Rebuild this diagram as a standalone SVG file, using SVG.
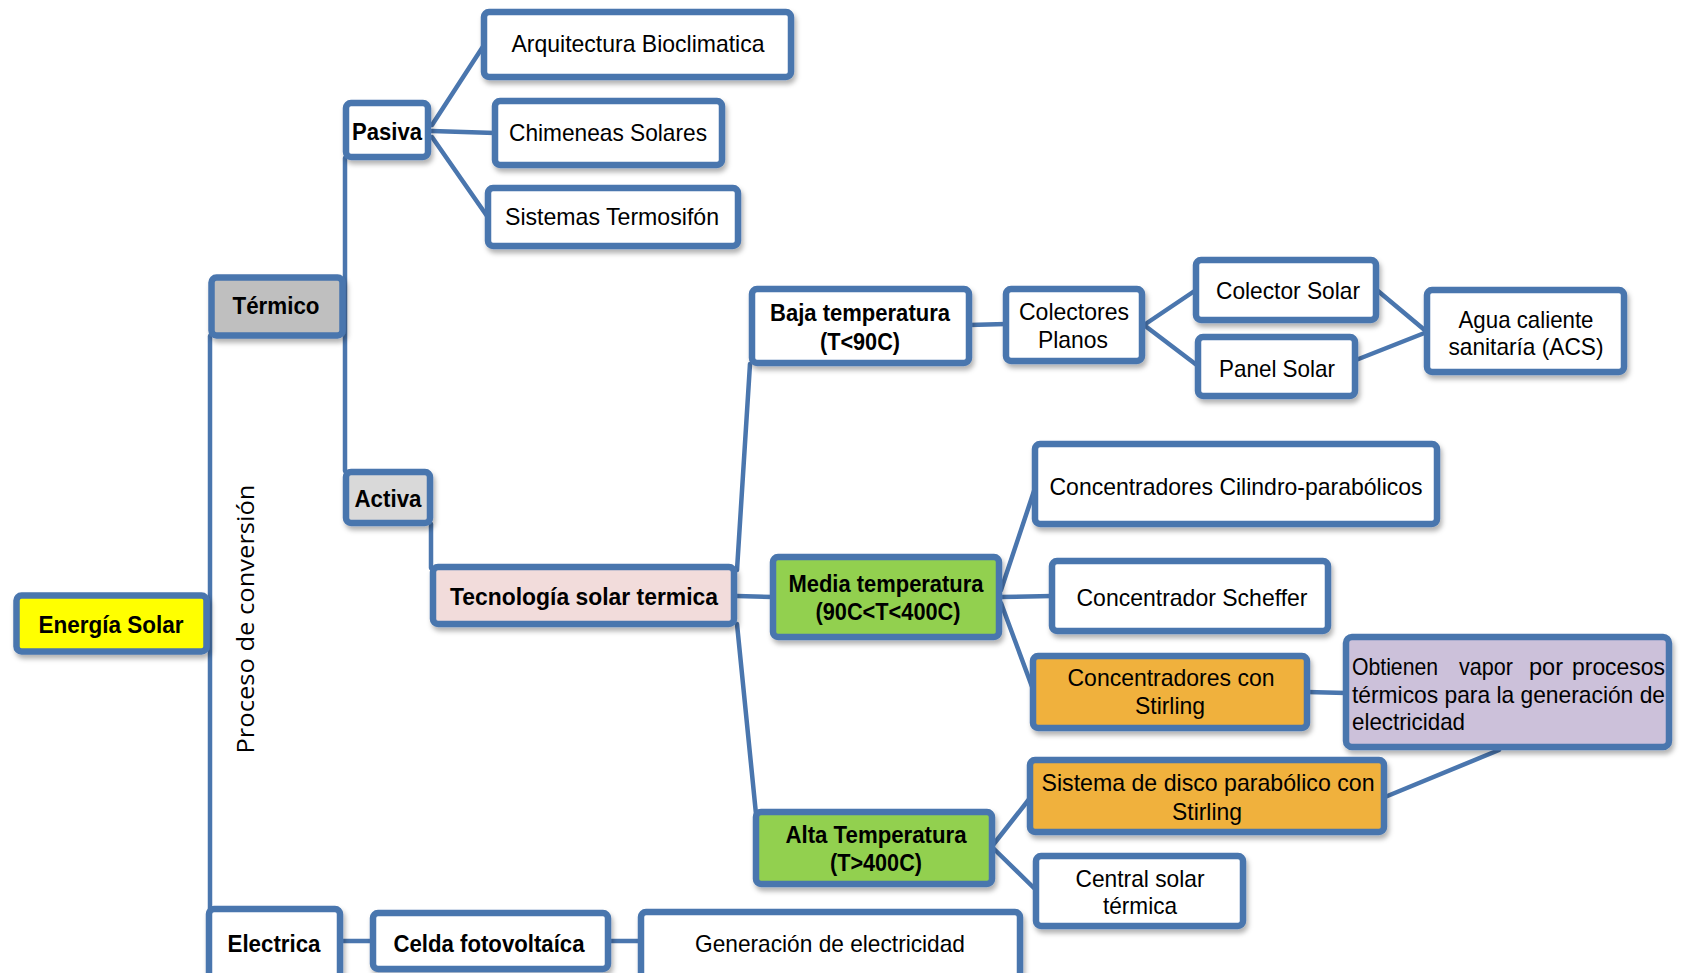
<svg xmlns="http://www.w3.org/2000/svg" width="1687" height="973" viewBox="0 0 1687 973">
<style>
.box{stroke:#4A76AE;stroke-width:6.5;filter:url(#sh)}
.w{fill:#FFFFFF}
.t{font-family:"Liberation Sans",Arial,sans-serif;font-size:24px;fill:#000;text-anchor:middle}
.b{font-weight:bold}
.l{text-anchor:start}
.c{stroke:#4A76AE;stroke-width:4.5;fill:none;stroke-linecap:round}
</style>
<defs>
<filter id="sh" x="-10%" y="-15%" width="125%" height="150%">
<feDropShadow dx="2" dy="4" stdDeviation="2.5" flood-color="#000" flood-opacity="0.3"/>
</filter>
</defs>
<rect width="1687" height="973" fill="#FFFFFF"/>
<g id="connectors">
<line class="c" x1="210" y1="336" x2="210" y2="910"/>
<line class="c" x1="345" y1="158" x2="345" y2="471"/>
<line class="c" x1="432" y1="125" x2="484" y2="45"/>
<line class="c" x1="432" y1="131" x2="495" y2="133"/>
<line class="c" x1="432" y1="137" x2="487" y2="216"/>
<line class="c" x1="431" y1="524" x2="431" y2="568"/>
<line class="c" x1="737" y1="570" x2="750" y2="364"/>
<line class="c" x1="737" y1="596" x2="773" y2="597"/>
<line class="c" x1="737" y1="624" x2="756" y2="814"/>
<line class="c" x1="969" y1="325" x2="1006" y2="324"/>
<line class="c" x1="1144" y1="325" x2="1196" y2="290"/>
<line class="c" x1="1144" y1="325" x2="1198" y2="366"/>
<line class="c" x1="1378" y1="291" x2="1427" y2="332"/>
<line class="c" x1="1356" y1="360" x2="1427" y2="332"/>
<line class="c" x1="1001" y1="590" x2="1035" y2="488"/>
<line class="c" x1="999" y1="597" x2="1052" y2="596"/>
<line class="c" x1="1001" y1="603" x2="1034" y2="692"/>
<line class="c" x1="1307" y1="692" x2="1346" y2="693"/>
<line class="c" x1="1499" y1="750" x2="1385" y2="797"/>
<line class="c" x1="993" y1="845" x2="1030" y2="798"/>
<line class="c" x1="993" y1="848" x2="1037" y2="891"/>
<line class="c" x1="340" y1="941" x2="373" y2="941"/>
<line class="c" x1="608" y1="941" x2="641" y2="941"/>
</g>
<text class="t" transform="translate(254,619) rotate(-90)" style="font-family:'Open Sans','Noto Sans',sans-serif;font-size:24px" textLength="269" lengthAdjust="spacingAndGlyphs">Proceso de conversión</text>
<g id="energia"><rect class="box" x="16.5" y="595.5" width="190" height="56" rx="5" fill="#FFFF00"/><text class="t b" x="111" y="633" textLength="145" lengthAdjust="spacingAndGlyphs">Energía Solar</text></g>
<g id="termico"><rect class="box" x="211.5" y="277.5" width="131" height="58" rx="5" fill="#BFBFBF"/><text class="t b" x="276" y="314" textLength="87" lengthAdjust="spacingAndGlyphs">Térmico</text></g>
<g id="pasiva"><rect class="box w" x="346" y="103" width="82" height="54" rx="5"/><text class="t b" x="387" y="140" textLength="70" lengthAdjust="spacingAndGlyphs">Pasiva</text></g>
<g id="arquitectura"><rect class="box w" x="484" y="12" width="307" height="65" rx="5"/><text class="t" x="638" y="52" textLength="253" lengthAdjust="spacingAndGlyphs">Arquitectura Bioclimatica</text></g>
<g id="chimeneas"><rect class="box w" x="495" y="101" width="227" height="64" rx="5"/><text class="t" x="608" y="141" textLength="198" lengthAdjust="spacingAndGlyphs">Chimeneas  Solares</text></g>
<g id="sistemas"><rect class="box w" x="488" y="188" width="250" height="58" rx="5"/><text class="t" x="612" y="225" textLength="214" lengthAdjust="spacingAndGlyphs">Sistemas Termosifón</text></g>
<g id="activa"><rect class="box" x="346" y="472" width="84" height="51" rx="5" fill="#D9D9D9"/><text class="t b" x="388" y="507" textLength="67" lengthAdjust="spacingAndGlyphs">Activa</text></g>
<g id="tecnologia"><rect class="box" x="433" y="567" width="301" height="57" rx="5" fill="#F2DCDB"/><text class="t b" x="584" y="605" textLength="268" lengthAdjust="spacingAndGlyphs">Tecnología solar  termica</text></g>
<g id="baja"><rect class="box w" x="752" y="289" width="217" height="74" rx="5"/><text class="t b" x="860" y="321" textLength="180" lengthAdjust="spacingAndGlyphs">Baja temperatura</text><text class="t b" x="860" y="350" textLength="80" lengthAdjust="spacingAndGlyphs">(T&lt;90C)</text></g>
<g id="colectores"><rect class="box w" x="1006" y="289" width="136" height="72" rx="5"/><text class="t" x="1074" y="320" textLength="110" lengthAdjust="spacingAndGlyphs">Colectores</text><text class="t" x="1073" y="348" textLength="70" lengthAdjust="spacingAndGlyphs">Planos</text></g>
<g id="colector-solar"><rect class="box w" x="1196" y="260" width="180" height="60" rx="5"/><text class="t" x="1288" y="299" textLength="144" lengthAdjust="spacingAndGlyphs">Colector Solar</text></g>
<g id="panel-solar"><rect class="box w" x="1198" y="337" width="157" height="59" rx="5"/><text class="t" x="1277" y="377" textLength="116" lengthAdjust="spacingAndGlyphs">Panel Solar</text></g>
<g id="agua"><rect class="box w" x="1427" y="290" width="197" height="82" rx="5"/><text class="t" x="1526" y="328" textLength="135" lengthAdjust="spacingAndGlyphs">Agua caliente</text><text class="t" x="1526" y="355" textLength="155" lengthAdjust="spacingAndGlyphs">sanitaría (ACS)</text></g>
<g id="cilindro"><rect class="box w" x="1035" y="444" width="402" height="80" rx="5"/><text class="t" x="1236" y="495" textLength="373" lengthAdjust="spacingAndGlyphs">Concentradores Cilindro-parabólicos</text></g>
<g id="media"><rect class="box" x="773" y="557" width="226" height="80" rx="5" fill="#92D050"/><text class="t b" x="886" y="592" textLength="195" lengthAdjust="spacingAndGlyphs">Media temperatura</text><text class="t b" x="888" y="620" textLength="145" lengthAdjust="spacingAndGlyphs">(90C&lt;T&lt;400C)</text></g>
<g id="scheffer"><rect class="box w" x="1052" y="561" width="276" height="70" rx="5"/><text class="t" x="1192" y="606" textLength="231" lengthAdjust="spacingAndGlyphs">Concentrador Scheffer</text></g>
<g id="conc-stirling"><rect class="box" x="1033" y="656" width="274" height="72" rx="5" fill="#F0B13C"/><text class="t" x="1171" y="686" textLength="207" lengthAdjust="spacingAndGlyphs">Concentradores con</text><text class="t" x="1170" y="714" textLength="70" lengthAdjust="spacingAndGlyphs">Stirling</text></g>
<g id="obtienen"><rect class="box" x="1346" y="637" width="323" height="110" rx="6" fill="#CCC1DA"/>
<text class="t l" x="1352" y="675" textLength="86" lengthAdjust="spacingAndGlyphs">Obtienen</text>
<text class="t l" x="1459" y="675" textLength="54" lengthAdjust="spacingAndGlyphs">vapor</text>
<text class="t l" x="1529" y="675" textLength="34" lengthAdjust="spacingAndGlyphs">por</text>
<text class="t l" x="1572" y="675" textLength="93" lengthAdjust="spacingAndGlyphs">procesos</text>
<text class="t l" x="1352" y="703" textLength="313" lengthAdjust="spacingAndGlyphs">térmicos para la generación de</text>
<text class="t l" x="1352" y="730" textLength="113" lengthAdjust="spacingAndGlyphs">electricidad</text></g>
<g id="disco"><rect class="box" x="1030" y="760" width="354" height="72" rx="5" fill="#F0B13C"/><text class="t" x="1208" y="791" textLength="333" lengthAdjust="spacingAndGlyphs">Sistema de disco parabólico con</text><text class="t" x="1207" y="820" textLength="70" lengthAdjust="spacingAndGlyphs">Stirling</text></g>
<g id="alta"><rect class="box" x="756" y="812" width="236" height="72" rx="5" fill="#92D050"/><text class="t b" x="876" y="843" textLength="181" lengthAdjust="spacingAndGlyphs">Alta Temperatura</text><text class="t b" x="876" y="871" textLength="92" lengthAdjust="spacingAndGlyphs">(T&gt;400C)</text></g>
<g id="central"><rect class="box w" x="1036" y="856" width="207" height="70" rx="5"/><text class="t" x="1140" y="887" textLength="129" lengthAdjust="spacingAndGlyphs">Central  solar</text><text class="t" x="1140" y="914" textLength="74" lengthAdjust="spacingAndGlyphs">térmica</text></g>
<g id="electrica"><rect class="box w" x="209" y="909" width="131" height="70" rx="5"/><text class="t b" x="274" y="952" textLength="93" lengthAdjust="spacingAndGlyphs">Electrica</text></g>
<g id="celda"><rect class="box w" x="373" y="913" width="235" height="56" rx="5"/><text class="t b" x="489" y="952" textLength="191" lengthAdjust="spacingAndGlyphs">Celda fotovoltaíca</text></g>
<g id="generacion"><rect class="box w" x="641" y="912" width="379" height="70" rx="5"/><text class="t" x="830" y="952" textLength="270" lengthAdjust="spacingAndGlyphs">Generación  de electricidad</text></g>
</svg>
